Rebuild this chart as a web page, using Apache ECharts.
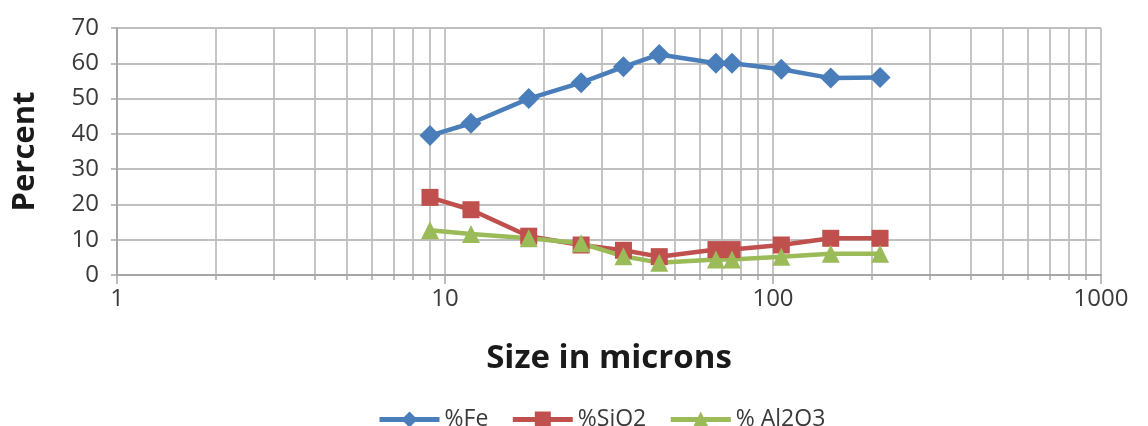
<!DOCTYPE html>
<html>
<head>
<meta charset="utf-8">
<script src="https://cdn.jsdelivr.net/npm/echarts@6/dist/echarts.min.js"></script>
<style>
  html, body { margin: 0; padding: 0; background: #fff; }
  #chart { width: 1148px; height: 426px; }
</style>
</head>
<body>
<div id="chart"></div>
<script>
// Particle size (microns) and assay of each size fraction
const sizes = [9, 12, 18, 26, 35, 45, 67, 75, 106, 150, 212];
const fe    = [39.5, 43, 50, 54.5, 59, 62.5, 60, 60, 58.3, 55.8, 56];
const sio2  = [22, 18.5, 11, 8.5, 7, 5.2, 7.2, 7.2, 8.5, 10.4, 10.4];
const al2o3 = [12.7, 11.6, 10.4, 9, 5.3, 3.5, 4.4, 4.4, 5.2, 6, 6];

// Log-axis gridline positions (1..9 per decade) and labelled decades
const logTicks = [];
for (let d = 1; d <= 100; d *= 10) for (let k = 1; k < 10; k++) logTicks.push(k * d);
logTicks.push(1000);
const decadeLabels = [1, 10, 100, 1000];
const yTicks = [0, 10, 20, 30, 40, 50, 60, 70];

const FONT = '"Open Sans", "Noto Sans", sans-serif';
const GRID = '#bfbfbf';
const AXIS = '#a6a6a6';
const TXT = '#3a3a3a';

function pairs(ys) { return sizes.map((x, i) => [x, ys[i]]); }

const chart = echarts.init(document.getElementById('chart'), null, { renderer: 'canvas' });
chart.setOption({
  animation: false,
  textStyle: { fontFamily: FONT },
  grid: { left: 117, right: 47, top: 28, bottom: 151, containLabel: false },
  xAxis: [
    {
      type: 'log', logBase: 10, min: 1, max: 1000,
      axisLine: { show: true, lineStyle: { color: AXIS, width: 2 } },
      axisTick: { show: true, length: 5, customValues: logTicks, lineStyle: { color: AXIS, width: 1.5 } },
      splitLine: { show: true, lineStyle: { color: GRID, width: 1.8 } },
      axisLabel: { show: false }
    },
    {
      type: 'log', logBase: 10, min: 1, max: 1000, position: 'bottom',
      name: 'Size in microns', nameLocation: 'middle', nameGap: 67,
      nameTextStyle: { fontSize: 33, fontWeight: 'bold', color: '#1a1a1a', fontFamily: FONT },
      axisLine: { show: false },
      axisTick: { show: true, length: 9, customValues: decadeLabels, lineStyle: { color: AXIS, width: 1.5 } },
      splitLine: { show: false },
      axisLabel: { customValues: decadeLabels, fontSize: 24, color: TXT, margin: 12, fontFamily: FONT,
                   formatter: v => String(v) }
    }
  ],
  yAxis: {
    type: 'value', min: 0, max: 70, interval: 10,
    name: 'Percent', nameLocation: 'middle', nameGap: 76,
    nameTextStyle: { fontSize: 31, fontWeight: 'bold', color: '#1a1a1a', fontFamily: FONT },
    axisLine: { show: true, lineStyle: { color: AXIS, width: 2 } },
    axisTick: { show: true, length: 6, lineStyle: { color: AXIS, width: 1.5 } },
    splitLine: { show: true, lineStyle: { color: GRID, width: 1.8 } },
    axisLabel: { fontSize: 24, color: TXT, margin: 18, fontFamily: FONT,
                 customValues: yTicks }
  },
  legend: {
    left: 372, top: 403, itemWidth: 60, itemHeight: 20, itemGap: 22,
    textStyle: { fontSize: 23, color: TXT, fontFamily: FONT },
    lineStyle: { width: 5 },
    data: ['%Fe', '%SiO2', '% Al2O3']
  },
  series: [
    {
      name: '%Fe', type: 'line', data: pairs(fe),
      symbol: 'diamond', symbolSize: 21,
      lineStyle: { color: '#4a7ebb', width: 4.5 },
      itemStyle: { color: '#4a7ebb' }
    },
    {
      name: '%SiO2', type: 'line', data: pairs(sio2),
      symbol: 'rect', symbolSize: 17,
      lineStyle: { color: '#c0504d', width: 4.5 },
      itemStyle: { color: '#c0504d' }
    },
    {
      name: '% Al2O3', type: 'line', data: pairs(al2o3),
      symbol: 'triangle', symbolSize: 18,
      lineStyle: { color: '#9bbb59', width: 4.5 },
      itemStyle: { color: '#9bbb59' }
    }
  ]
});
</script>
</body>
</html>
